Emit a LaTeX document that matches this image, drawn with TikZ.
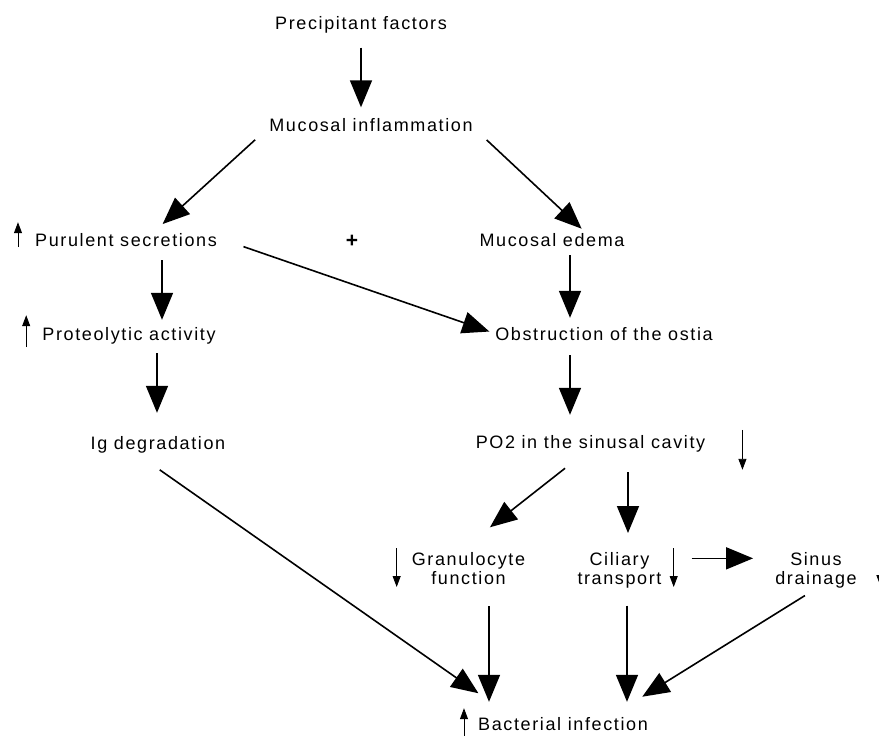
\documentclass[tikz,border=0pt]{standalone}
\usepackage{fontspec}
\setmainfont{Liberation Sans}[LetterSpace=9]
\usetikzlibrary{arrows.meta, positioning}

\begin{document}
\begin{tikzpicture}[x=1pt, y=-1pt,
  lbl/.style={font=\fontsize{18}{19.5}\selectfont, inner sep=0pt,
              text height=13pt, text depth=4pt, anchor=base},
  pair/.style={font=\fontsize{18}{19.5}\selectfont, inner sep=0pt,
               align=center, anchor=north},
  flow/.style={-{Triangle[length=27pt, width=22pt]}, line width=1.6pt},
  tick/.style={-{Triangle[length=11pt, width=8pt]}, line width=0.9pt}]
  \useasboundingbox (0,0) rectangle (879,736);

  % labels
  \node[lbl] (prec)  at (361,29.3)  {Precipitant factors};
  \node[lbl] (infl)  at (371,131.5) {Mucosal inflammation};
  \node[lbl] (pur)   at (126,246)   {Purulent secretions};
  \node[lbl, font=\fontsize{21}{22}\selectfont\bfseries] (plus) at (352,247) {+};
  \node[lbl] (edema) at (552,246)   {Mucosal edema};
  \node[lbl] (prot)  at (129,340)   {Proteolytic activity};
  \node[lbl] (obstr) at (604,340)   {Obstruction of the ostia};
  \node[lbl] (ig)    at (158,449)   {Ig degradation};
  \node[lbl] (po2)   at (590.5,448) {PO2 in the sinusal cavity};
  \node[pair] (gran)  at (468.5,552) {Granulocyte\\function};
  \node[pair] (cil)   at (619.5,552) {Ciliary\\transport};
  \node[pair] (sinus) at (816,552)   {Sinus\\drainage};
  \node[lbl] (bact)  at (563,730)   {Bacterial infection};

  % main chain
  \draw[flow, shorten <=14pt, shorten >=11pt] (prec.south) -- (prec.south |- infl.north);
  \draw[flow, shorten <=19pt, shorten >=13pt] (infl.west) -- ([xshift=27pt]pur.north);
  \draw[flow, shorten <=19pt, shorten >=6pt] (infl.east) -- ([xshift=34pt]edema.north);
  \draw[flow, shorten <=10pt, shorten >=7pt] ([xshift=36pt]pur.south) -- ([xshift=36pt]pur.south |- prot.north);
  \draw[flow, shorten <=5pt, shorten >=9pt] ([xshift=18pt]edema.south) -- ([xshift=18pt]edema.south |- obstr.north);
  \draw[flow, shorten <=28pt, shorten >=6pt] ([yshift=4pt]pur.east) -- ([yshift=2pt]obstr.west);
  \draw[flow, shorten <=9pt, shorten >=23pt] ([xshift=28pt]prot.south) -- ([xshift=28pt]prot.south |- ig.north);
  \draw[flow, shorten <=11pt, shorten >=20pt] ([xshift=-34pt]obstr.south) -- ([xshift=-34pt]obstr.south |- po2.north);
  \draw[flow, shorten <=26pt, shorten >=40pt] ([xshift=-5pt]po2.south) -- ([xshift=-10pt]gran.north);
  \draw[flow, shorten <=20pt, shorten >=19pt] ([xshift=37.5pt]po2.south) -- ([xshift=37.5pt]po2.south |- cil.north);
  \draw[flow, shorten <=30pt, shorten >=22pt] ([yshift=12pt]cil.east) -- ([yshift=12pt]sinus.west);

  % into the infection
  \draw[flow, shorten <=29pt, shorten >=41pt] ([xshift=-22pt]ig.south) -- ([xshift=-51pt]bact.north);
  \draw[flow, shorten <=21pt, shorten >=15pt] ([xshift=20.5pt]gran.south) -- ([xshift=20.5pt]gran.south |- bact.north);
  \draw[flow, shorten <=17pt, shorten >=15pt] ([xshift=7.5pt]cil.south) -- ([xshift=7.5pt]cil.south |- bact.north);
  \draw[flow, shorten <=13pt, shorten >=38pt] (sinus.south) -- ([xshift=47pt]bact.north);

  % up / down markers
  \draw[tick] ([xshift=-17pt, yshift=3pt]pur.south west) -- ++(0,-25);
  \draw[tick] ([xshift=-16pt, yshift=-3pt]prot.south west) -- ++(0,-32);
  \draw[tick] ([xshift=37pt, yshift=5pt]po2.north east) -- ++(0,40);
  \draw[tick] ([xshift=-15pt, yshift=4pt]gran.north west) -- ++(0,39);
  \draw[tick] ([xshift=12pt, yshift=4pt]cil.north east) -- ++(0,39);
  \draw[tick] ([xshift=23.5pt, yshift=5pt]sinus.north east) -- ++(0,39);
  \draw[tick] ([xshift=-14pt, yshift=-11pt]bact.south west) -- ++(0,-37);
\end{tikzpicture}
\end{document}
